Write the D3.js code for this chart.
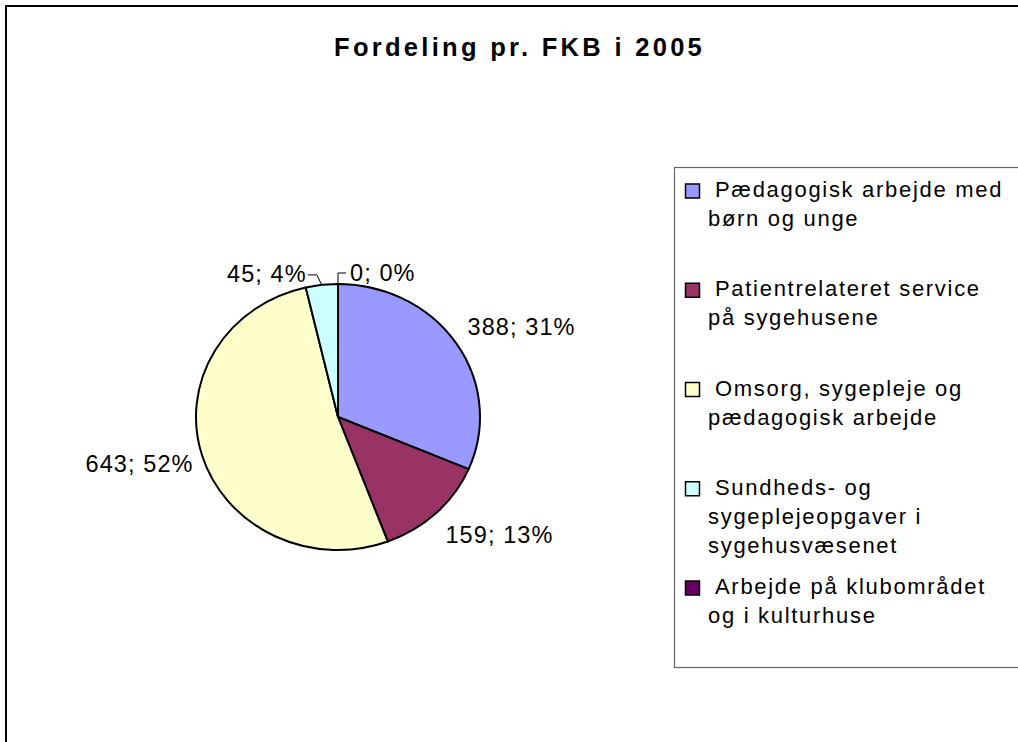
<!doctype html>
<html lang="da">
<head>
<meta charset="utf-8">
<style>
  body { margin: 0; background: #fff; }
  svg { display: block; font-family: "Liberation Sans", Arial, sans-serif; }
</style>
</head>
<body>
<div id="grafico"></div>
<script src="https://d3js.org/d3.v7.min.js"></script>
<script>

// data
var categories = [
  "Pædagogisk arbejde med børn og unge",
  "Patientrelateret service på sygehusene",
  "Omsorg, sygepleje og pædagogisk arbejde",
  "Sundheds- og sygeplejeopgaver i sygehusvæsenet",
  "Arbejde på klubområdet og i kulturhuse"
];
var values = [388, 159, 643, 45, 0];
var legendLines = [
  ["Pædagogisk arbejde med", "børn og unge"],
  ["Patientrelateret service", "på sygehusene"],
  ["Omsorg, sygepleje og", "pædagogisk arbejde"],
  ["Sundheds- og", "sygeplejeopgaver i", "sygehusvæsenet"],
  ["Arbejde på klubområdet", "og i kulturhuse"]
];
var colors = ["#9999FF", "#993366", "#FFFFCC", "#CCFFFF", "#660066"];
var title = "Fordeling pr. FKB i 2005";

var W = 1018, H = 742;
var cx = 338, cy = 417, rx = 142, ry = 133;

var svg = d3.select("#grafico").append("svg").attr("width", W).attr("height", H);

// ramme
svg.append("rect").attr("x", 6).attr("y", 6).attr("width", 1030).attr("height", 760)
  .attr("fill", "#fff").attr("stroke", "#000").attr("stroke-width", 2);

svg.append("text").attr("x", 334).attr("y", 56)
  .style("font-size", "25.5px").style("font-weight", "bold").style("letter-spacing", "3.3px")
  .text(title);

var total = d3.sum(values);
var data = values.map(function(v, i) { return { name: categories[i], value: v, i: i }; });

var pie = d3.pie().sort(null).value(function(d) { return d.value; }).startAngle(0).endAngle(2 * Math.PI);
var arcs = pie(data);
var arc = d3.arc().innerRadius(0).outerRadius(rx);

var g = svg.append("g").attr("transform", "translate(" + cx + "," + cy + ") scale(1," + (ry / rx) + ")");
g.selectAll("path").data(arcs).enter().append("path")
  .attr("d", arc)
  .attr("fill", function(d) { return colors[d.data.i]; })
  .attr("stroke", "#000").attr("stroke-width", 2)
  .attr("vector-effect", "non-scaling-stroke")
  .attr("stroke-linejoin", "round");

function edge(a, d) {
  return [cx + (rx + d) * Math.sin(a), cy - (ry + d) * Math.cos(a)];
}
function labelText(d) {
  return d.data.value + "; " + Math.round(100 * d.data.value / total) + "%";
}

// etiketter
var labels = svg.append("g").style("font-size", "23.5px").style("letter-spacing", "1.1px");
arcs.forEach(function(d) {
  var mid = (d.startAngle + d.endAngle) / 2;
  var share = d.data.value / total;
  if (share >= 0.05) {
    var p = edge(mid, 12);
    var right = Math.sin(mid) > 0;
    labels.append("text")
      .attr("x", right ? p[0] + 1 : p[0] + 3)
      .attr("y", p[1] - 18 * Math.cos(mid) + 8)
      .attr("text-anchor", right ? "start" : "end")
      .text(labelText(d));
  } else {
    var e = edge(mid, 0);
    var left = d.data.i < data.length - 1;
    var pts, tx, ty;
    if (left) {
      pts = [e, [e[0] - 5, e[1] - 10], [e[0] - 14, e[1] - 10]];
      tx = e[0] - 15; ty = e[1] - 3;
    } else {
      pts = [e, [e[0], e[1] - 11], [e[0] + 8, e[1] - 11]];
      tx = e[0] + 12; ty = e[1] - 3;
    }
    svg.append("path").attr("d", d3.line()(pts))
      .attr("fill", "none").attr("stroke", "#000").attr("stroke-width", 1);
    labels.append("text").attr("x", tx).attr("y", ty)
      .attr("text-anchor", left ? "end" : "start")
      .text(labelText(d));
  }
});

// forklaring
var leg = svg.append("g");
leg.append("rect").attr("x", 674.5).attr("y", 167.5).attr("width", 400).attr("height", 500)
  .attr("fill", "#fff").attr("stroke", "#666").attr("stroke-width", 1.2);

var items = leg.selectAll("g.item").data(data).enter().append("g").attr("class", "item")
  .attr("transform", function(d, i) { return "translate(0," + (197 + i * 99.25) + ")"; });

items.append("rect").attr("x", 685.5).attr("y", -13).attr("width", 14).attr("height", 14)
  .attr("fill", function(d) { return colors[d.i]; })
  .attr("stroke", "#000").attr("stroke-width", 1.5);

items.each(function(d) {
  var t = d3.select(this).append("text").style("font-size", "22px").style("letter-spacing", "1.7px");
  legendLines[d.i].forEach(function(line, k) {
    t.append("tspan").attr("x", k === 0 ? 715 : 708).attr("y", k * 29).text(line);
  });
});

</script>
</body>
</html>
